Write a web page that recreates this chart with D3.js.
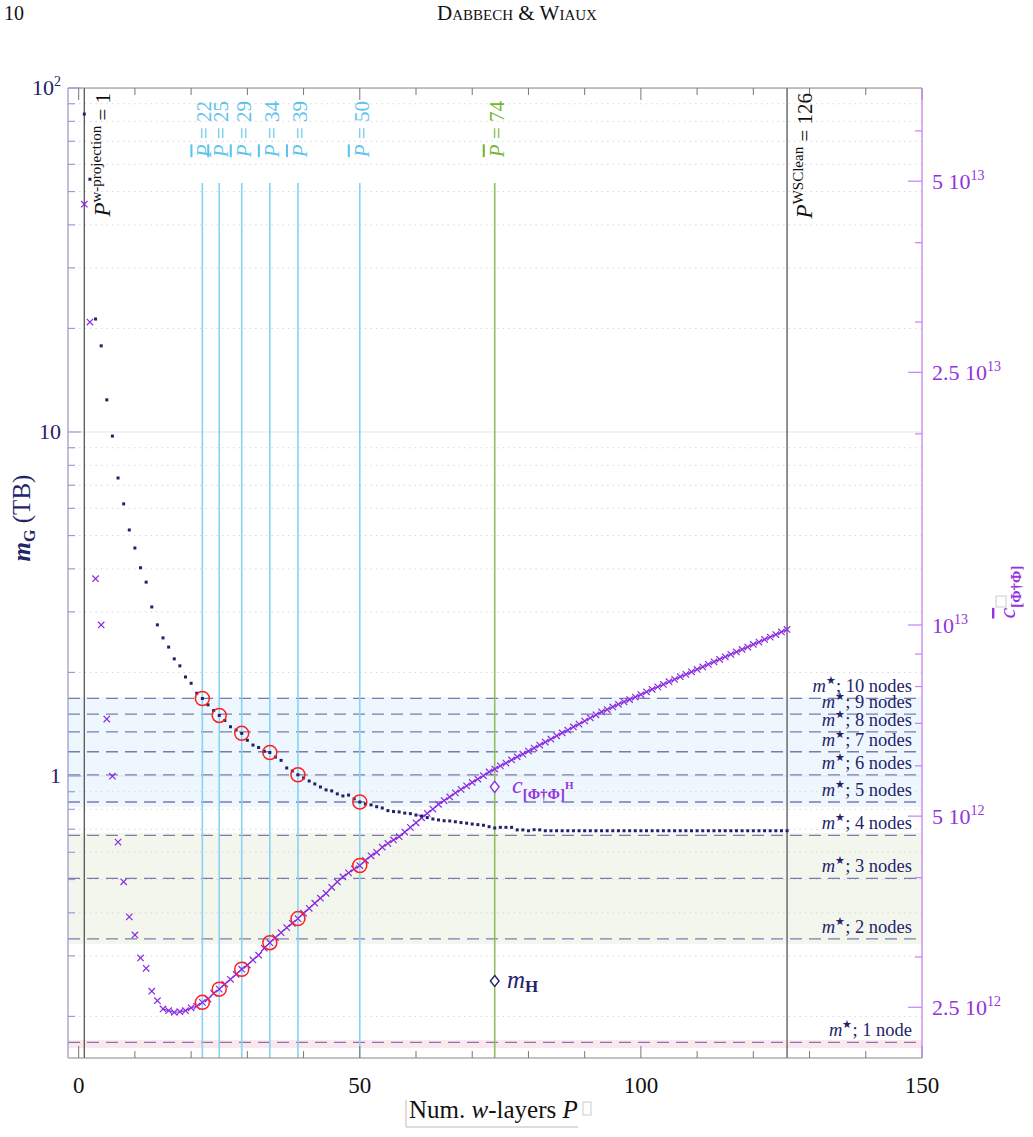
<!DOCTYPE html>
<html><head><meta charset="utf-8">
<script src="https://cdn.jsdelivr.net/npm/d3@7"></script>
<style>
body{margin:0;background:#fff}
svg{display:block}
text{font-family:"Liberation Serif","DejaVu Serif",serif}
</style>
</head><body>
<svg id="chart" width="1033" height="1137"></svg>
<script>
// ---------------- DATA ----------------
const layersP = d3.range(1, 127);
// m_G (TB), left axis
const mG = [84,54.3,21.3,17.8,12.4,9.73,7.35,6.18,5.19,4.6,
 4.03,3.66,3.10,2.75,2.52,2.37,2.19,2.09,1.94,1.86,
 1.74,1.68,1.61,1.55,1.50,1.45,1.39,1.36,1.33,1.27,
 1.23,1.21,1.18,1.17,1.135,1.11,1.055,1.034,1.008,0.987,
 0.967,0.948,0.929,0.911,0.905,0.887,0.875,0.88,0.858,0.84,
 0.829,0.824,0.814,0.807,0.793,0.788,0.786,0.78,0.777,0.770,
 0.765,0.757,0.750,0.745,0.741,0.740,0.736,0.732,0.729,0.725,
 0.722,0.719,0.712,0.706,0.709,0.709,0.709,0.697,0.697,0.693,
 0.698,0.697,0.693,0.693,0.693,0.693,0.693,0.693,0.693,0.693,
 0.693,0.693,0.693,0.693,0.693,0.693,0.693,0.693,0.693,0.693,
 0.693,0.693,0.693,0.693,0.693,0.693,0.693,0.693,0.693,0.693,
 0.693,0.693,0.693,0.693,0.693,0.693,0.693,0.693,0.693,0.693,
 0.693,0.693,0.693,0.693,0.693,0.693];
// c_[Phi^dagger Phi] in units of 1e12, right axis
const cPhi = [46.0,30.0,11.83,10.0,7.11,5.78,4.55,3.94,3.47,3.25,
 2.99,2.88,2.65,2.56,2.485,2.47,2.455,2.46,2.47,2.495,
 2.51,2.545,2.576,2.63,2.67,2.72,2.767,2.818,2.87,2.914,
 2.968,3.02,3.097,3.16,3.219,3.277,3.337,3.39,3.448,3.516,
 3.58,3.646,3.713,3.78,3.863,3.94,4.01,4.07,4.13,4.18,
 4.26,4.33,4.385,4.467,4.53,4.586,4.64,4.72,4.80,4.88,
 4.97,5.05,5.13,5.22,5.29,5.36,5.44,5.51,5.58,5.65,
 5.72,5.79,5.87,5.93,6.00,6.06,6.13,6.20,6.26,6.33,
 6.40,6.47,6.54,6.61,6.69,6.76,6.83,6.91,6.98,7.06,
 7.14,7.22,7.30,7.36,7.43,7.50,7.57,7.63,7.70,7.77,
 7.85,7.92,7.99,8.06,8.14,8.21,8.29,8.36,8.44,8.51,
 8.59,8.67,8.75,8.83,8.91,8.99,9.07,9.15,9.23,9.32,
 9.40,9.49,9.57,9.66,9.75,9.84];
const markedP = [22, 25, 29, 34, 39, 50];
const optimalP = 74;
const wprojP = 1;
const wscleanP = 126;
const nodeCounts = [1,2,3,4,5,6,7,8,9,10];
const mStar = [0.168,0.336,0.504,0.672,0.840,1.008,1.176,1.344,1.512,1.680];
const mH = 0.2535;          // TB at P=74
const cH = 5.56;            // 1e12 at P=74
const xTickLabels = [0, 50, 100, 150];
const leftTickLabels = [1, 10, 100];
const rightTickLabels = [2.5, 5, 10, 25, 50];   // x1e12
const rightMinor = [3,4,6,7,8,9,20,30,40,60];

// ---------------- LAYOUT ----------------
const L = 68, R = 922, T = 88, B = 1058;
const NAVY = "#24246b", PURPLE = "#8a2be2", PURPLE_T = "#9333dd";
const svg = d3.select("#chart");

const x = d3.scaleLinear().domain([-1.9, 150]).range([L, R]);
const yL = d3.scaleLog().domain([0.1514, 100]).range([B, T]);
const yR = d3.scaleLog().domain([2.08, 70.1]).range([B, T]);

svg.append("defs").append("clipPath").attr("id","clip")
  .append("rect").attr("x",L).attr("y",T).attr("width",R-L).attr("height",B-T);
const plot = svg.append("g").attr("clip-path","url(#clip)");

// bands
const bands = [
  {lo:0.1619, hi:0.1706, fill:"#fde6ec"},
  {lo:0.325, hi:0.683, fill:"#f3f6ec"},
  {lo:0.813, hi:1.697, fill:"#eef7fd"}
];
plot.selectAll("rect.band").data(bands).enter().append("rect")
  .attr("x",L).attr("width",R-L)
  .attr("y",d=>yL(d.hi)).attr("height",d=>yL(d.lo)-yL(d.hi))
  .attr("fill",d=>d.fill);

// grid (left axis ticks)
const gridVals = [];
[0.1,1,10].forEach(dec=>{ for(let k=1;k<=9;k++){ const v=k*dec; if(v>=0.16 && v<=100) gridVals.push(v);} });
gridVals.push(100);
const isMajor = d => Math.abs(Math.log10(d) - Math.round(Math.log10(d))) < 1e-9;
plot.selectAll("line.grid").data(gridVals).enter().append("line")
  .attr("x1",L).attr("x2",R).attr("y1",d=>yL(d)).attr("y2",d=>yL(d))
  .attr("stroke",d=>isMajor(d)?"#e4e4ea":"#d9d9d9")
  .attr("stroke-width",1)
  .attr("stroke-dasharray",d=>isMajor(d)?null:"1.5,4");

// m* dashed lines
plot.selectAll("line.mstar").data(mStar).enter().append("line")
  .attr("x1",L).attr("x2",R).attr("y1",d=>yL(d)).attr("y2",d=>yL(d))
  .attr("stroke","#7b7bb0").attr("stroke-width",1.3).attr("stroke-dasharray","12,7");

// vertical lines
plot.selectAll("line.vP").data([wprojP, wscleanP]).enter().append("line")
  .attr("x1",d=>x(d)).attr("x2",d=>x(d)).attr("y1",T).attr("y2",B)
  .attr("stroke","#555").attr("stroke-width",1.3);
plot.selectAll("line.vM").data(markedP).enter().append("line")
  .attr("x1",d=>x(d)).attr("x2",d=>x(d)).attr("y1",183).attr("y2",B)
  .attr("stroke","#86d3f3").attr("stroke-width",1.6);
plot.append("line").attr("x1",x(optimalP)).attr("x2",x(optimalP)).attr("y1",183).attr("y2",B)
  .attr("stroke","#8fbf5c").attr("stroke-width",1.6);

// c series line (from P=15)
const cData = layersP.map((p,i)=>({p, v:cPhi[i]}));
plot.append("path").datum(cData.filter(d=>d.p>=15))
  .attr("fill","none").attr("stroke",PURPLE).attr("stroke-width",1.1)
  .attr("d", d3.line().x(d=>x(d.p)).y(d=>yR(d.v)));
// c markers (x)
const s = 3.2;
plot.selectAll("path.cx").data(cData).enter().append("path")
  .attr("d", d=>{const cx=x(d.p), cy=yR(d.v); return `M${cx-s},${cy-s}L${cx+s},${cy+s}M${cx-s},${cy+s}L${cx+s},${cy-s}`;})
  .attr("stroke",PURPLE).attr("stroke-width",1.2).attr("fill","none");

// mG markers
const mData = layersP.map((p,i)=>({p, v:mG[i]}));
plot.selectAll("rect.mg").data(mData).enter().append("rect")
  .attr("x",d=>x(d.p)-1.5).attr("y",d=>yL(d.v)-1.5).attr("width",3).attr("height",3)
  .attr("fill","#1f2266");

// red circles
const idx = p => p-1;
plot.selectAll("circle.rm").data(markedP).enter().append("circle")
  .attr("cx",d=>x(d)).attr("cy",d=>yL(mG[idx(d)])).attr("r",7)
  .attr("fill","none").attr("stroke","#ff1f1f").attr("stroke-width",1.5);
plot.selectAll("circle.rc").data(markedP).enter().append("circle")
  .attr("cx",d=>x(d)).attr("cy",d=>yR(cPhi[idx(d)])).attr("r",7)
  .attr("fill","none").attr("stroke","#ff1f1f").attr("stroke-width",1.5);

// diamonds
function diamond(cx, cy, r){ return `M${cx},${cy-r}L${cx+r*0.8},${cy}L${cx},${cy+r}L${cx-r*0.8},${cy}Z`; }
plot.append("path").attr("d",diamond(x(optimalP), yR(cH), 5.5)).attr("fill","#fff").attr("stroke",PURPLE).attr("stroke-width",1.4);
plot.append("path").attr("d",diamond(x(optimalP), yL(mH), 5.5)).attr("fill","#fff").attr("stroke",NAVY).attr("stroke-width",1.4);

// ---------------- AXES ----------------
svg.append("line").attr("x1",L).attr("x2",R).attr("y1",T).attr("y2",T).attr("stroke","#888").attr("stroke-width",1);
svg.append("line").attr("x1",L).attr("x2",R).attr("y1",B).attr("y2",B).attr("stroke","#888").attr("stroke-width",1.2);
const xt = d3.range(0,151,10);
svg.selectAll("line.tt").data(xt).enter().append("line")
  .attr("x1",d=>x(d)).attr("x2",d=>x(d)).attr("y1",T).attr("y2",d=>T+(d%50===0?12:7))
  .attr("stroke","#777").attr("stroke-width",1);
svg.selectAll("line.bt").data(xt).enter().append("line")
  .attr("x1",d=>x(d)).attr("x2",d=>x(d)).attr("y1",B).attr("y2",d=>B-(d%50===0?12:7))
  .attr("stroke","#777").attr("stroke-width",1);
svg.selectAll("text.xl").data(xTickLabels).enter().append("text")
  .attr("x",d=>x(d)).attr("y",1093).attr("text-anchor","middle")
  .attr("font-size",23).attr("fill","#111").text(d=>d);

// left axis
svg.append("line").attr("x1",L).attr("x2",L).attr("y1",T).attr("y2",B).attr("stroke","#9c9cd2").attr("stroke-width",1.3);
svg.selectAll("line.lt").data(gridVals).enter().append("line")
  .attr("x1",L).attr("x2",d=>L+(leftTickLabels.includes(d)?13:7)).attr("y1",d=>yL(d)).attr("y2",d=>yL(d))
  .attr("stroke","#9c9cd2").attr("stroke-width",1.2);
leftTickLabels.forEach(v=>{
  const t = svg.append("text").attr("x",61).attr("y",yL(v)+7).attr("text-anchor","end")
    .attr("font-size",22).attr("fill",NAVY);
  if(v===100){ t.append("tspan").text("10"); t.append("tspan").attr("dy",-9).attr("font-size",14).text("2"); }
  else t.text(v);
});

// right axis
svg.append("line").attr("x1",R).attr("x2",R).attr("y1",T).attr("y2",B).attr("stroke","#c383f2").attr("stroke-width",1.3);
svg.selectAll("line.rt").data(rightTickLabels.concat(rightMinor)).enter().append("line")
  .attr("x1",R).attr("x2",d=>R-(rightTickLabels.includes(d)?14:7)).attr("y1",d=>yR(d)).attr("y2",d=>yR(d))
  .attr("stroke","#c383f2").attr("stroke-width",1.2);
const rLab = {2.5:["2.5 10","12"],5:["5 10","12"],10:["10","13"],25:["2.5 10","13"],50:["5 10","13"]};
rightTickLabels.forEach(v=>{
  const t = svg.append("text").attr("x",932).attr("y",yR(v)+8)
    .attr("font-size",22).attr("fill",PURPLE_T);
  t.append("tspan").text(rLab[v][0]);
  t.append("tspan").attr("dy",-9).attr("font-size",14).text(rLab[v][1]);
});

// ---------------- LABELS ----------------
svg.append("text").attr("x",4).attr("y",20).attr("font-size",20).attr("fill","#111").text("10");
svg.append("text").attr("x",517).attr("y",20).attr("text-anchor","middle").attr("font-size",21)
  .attr("fill","#111").style("font-variant","small-caps").text("Dabbech & Wiaux");

function rotLabel(bx, topY, color, parts, size){
  const t = svg.append("text").attr("transform",`translate(${bx},${topY}) rotate(-90)`)
    .attr("text-anchor","end").attr("font-size",size||21).attr("fill",color);
  parts.forEach(p=>{
    const ts = t.append("tspan").text(p.t);
    if(p.size) ts.attr("font-size",p.size);
    if(p.it) ts.attr("font-style","italic");
    if(p.dy) ts.attr("dy",p.dy);
    if(p.over) ts.style("text-decoration","overline");
  });
  return t;
}
rotLabel(110, 93, "#111", [{t:"P",it:true,size:23},{t:"w-projection",size:15,dy:-9},{t:" = 1",dy:9}]);
rotLabel(812, 93, "#111", [{t:"P",it:true,size:23},{t:"WSClean",size:15,dy:-9},{t:" = 126",dy:9}]);
markedP.forEach(p=>{
  rotLabel(x(p)+9, 101, "#5cc3ee", [{t:"P",it:true,over:true},{t:" = "+p}]);
});
rotLabel(x(optimalP)+9, 101, "#76b433", [{t:"P",it:true,over:true},{t:" = "+optimalP}]);

// m* labels
nodeCounts.forEach((n,i)=>{
  const t = svg.append("text").attr("x",912).attr("y",yL(mStar[i])-6).attr("text-anchor","end")
    .attr("font-size",18.5).attr("fill",NAVY);
  t.append("tspan").attr("font-style","italic").text("m");
  t.append("tspan").attr("dy",-8).attr("font-size",11).text("★");
  t.append("tspan").attr("dy",8).text("; " + n + (n===1?" node":" nodes"));
});

// c_H and m_H labels
{
  const t = svg.append("text").attr("x",512).attr("y",yR(cH)+6).attr("fill",PURPLE_T).attr("font-size",24);
  t.append("tspan").attr("font-style","italic").text("c");
  t.append("tspan").attr("dy",6).attr("font-size",15).attr("font-weight","bold").text("[Φ†Φ]");
  t.append("tspan").attr("dy",-10).attr("font-size",11).attr("font-weight","bold").text("H");
}
{
  const t = svg.append("text").attr("x",507).attr("y",yL(mH)+7).attr("fill",NAVY).attr("font-size",25);
  t.append("tspan").attr("font-style","italic").text("m");
  t.append("tspan").attr("dy",4).attr("font-size",17).attr("font-weight","bold").text("H");
}

// left axis title
{
  const t = svg.append("text").attr("transform","translate(30,518) rotate(-90)")
    .attr("text-anchor","middle").attr("fill",NAVY).attr("font-size",25);
  t.append("tspan").attr("font-style","italic").attr("font-weight","bold").text("m");
  t.append("tspan").attr("dy",5).attr("font-size",16).attr("font-weight","bold").text("G");
  t.append("tspan").attr("dy",-5).text(" (TB)");
}
// right axis title
{
  const t = svg.append("text").attr("transform","translate(1015,592) rotate(-90)")
    .attr("text-anchor","middle").attr("fill",PURPLE_T).attr("font-size",24);
  t.append("tspan").attr("font-style","italic").style("text-decoration","overline").text("c");
  t.append("tspan").attr("dy",6).attr("font-size",15).attr("font-weight","bold").text("[Φ†Φ]");
  svg.append("rect").attr("x",996).attr("y",596).attr("width",10).attr("height",11)
    .attr("fill","none").attr("stroke","#ccc").attr("stroke-width",1);
}
// x axis title
{
  const t = svg.append("text").attr("x",409).attr("y",1118).attr("fill","#111").attr("font-size",25);
  t.append("tspan").text("Num. ");
  t.append("tspan").attr("font-style","italic").text("w");
  t.append("tspan").text("-layers ");
  t.append("tspan").attr("font-style","italic").text("P");
  svg.append("line").attr("x1",406).attr("x2",406).attr("y1",1100).attr("y2",1127).attr("stroke","#bbb");
  svg.append("line").attr("x1",406).attr("x2",578).attr("y1",1127).attr("y2",1127).attr("stroke","#bbb");
  svg.append("rect").attr("x",583).attr("y",1102).attr("width",8).attr("height",13)
    .attr("fill","none").attr("stroke","#ccc").attr("stroke-width",1);
}
</script>
</body></html>
